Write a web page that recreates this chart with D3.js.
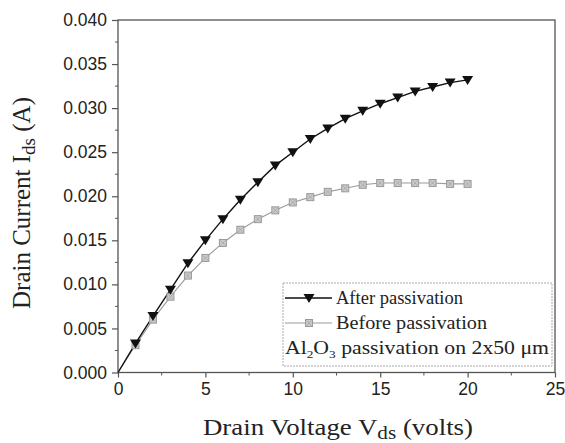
<!DOCTYPE html>
<html><head><meta charset="utf-8">
<script src="https://cdn.jsdelivr.net/npm/d3@7"></script>
<style>body{margin:0;background:#fff}svg{display:block}</style>
</head><body>
<svg id="c" width="565" height="443"></svg>
<script>
const voltage = [0,1,2,3,4,5,6,7,8,9,10,11,12,13,14,15,16,17,18,19,20];
const afterPassivation = [0,0.0033,0.0064,0.0094,0.0124,0.0150,0.0174,0.0196,0.0216,0.0235,0.0250,0.0265,0.0277,0.0288,0.0297,0.0305,0.0312,0.0319,0.0324,0.0329,0.0332];
const beforePassivation = [0,0.0031,0.0060,0.0086,0.0110,0.0130,0.0147,0.0162,0.0174,0.0184,0.0193,0.0199,0.0205,0.0209,0.0213,0.0215,0.0215,0.0215,0.0215,0.0214,0.0214];
const xTicks = [0,5,10,15,20,25];
const yTicks = [0,0.005,0.010,0.015,0.020,0.025,0.030,0.035,0.040];
const legendLabels = ["After passivation","Before passivation"];

const svg = d3.select("#c");
const L = 118, R = 555, T = 20, B = 372.5;
const x = d3.scaleLinear().domain([0,25]).range([L,R]);
const y = d3.scaleLinear().domain([0,0.040]).range([B,T]);
const axisColor = "#555";
const tickFont = "'Liberation Sans', Arial, sans-serif";
const serif = "'Liberation Serif', 'Times New Roman', serif";

// frame
svg.append("rect").attr("x",L).attr("y",T).attr("width",R-L).attr("height",B-T)
  .attr("fill","none").attr("stroke",axisColor).attr("stroke-width",1.3);

// minor ticks
const yMinor = d3.range(0.0025,0.040,0.005);
svg.append("g").selectAll("line").data(yMinor).join("line")
  .attr("x1",L-3).attr("x2",L).attr("y1",d=>y(d)).attr("y2",d=>y(d))
  .attr("stroke",axisColor).attr("stroke-width",1);
const xMinor = d3.range(2.5,25,5);
svg.append("g").selectAll("line").data(xMinor).join("line")
  .attr("y1",B).attr("y2",B+3).attr("x1",d=>x(d)).attr("x2",d=>x(d))
  .attr("stroke",axisColor).attr("stroke-width",1);

// axes
const yAxis = svg.append("g").attr("transform",`translate(${L},0)`)
  .call(d3.axisLeft(y).tickValues(yTicks).tickFormat(d3.format(".3f")).tickSize(6).tickPadding(5));
const xAxis = svg.append("g").attr("transform",`translate(0,${B})`)
  .call(d3.axisBottom(x).tickValues(xTicks).tickFormat(d3.format("d")).tickSize(5).tickPadding(5));
[xAxis,yAxis].forEach(g=>{
  g.select(".domain").remove();
  g.selectAll(".tick line").attr("stroke",axisColor).attr("stroke-width",1.2);
  g.selectAll(".tick text").attr("fill","#222").attr("font-family",tickFont).attr("font-size",17.5);
});

// lines
const lineGen = (arr)=>d3.line().x((d,i)=>x(voltage[i])).y(d=>y(d))(arr);
svg.append("path").attr("d",lineGen(beforePassivation)).attr("fill","none")
  .attr("stroke","#9a9a9a").attr("stroke-width",1.1);
svg.append("path").attr("d",lineGen(afterPassivation)).attr("fill","none")
  .attr("stroke","#111").attr("stroke-width",1.4);

// markers
const tri = "M-5.5,-4 L5.5,-4 L0,5 Z";
function square(g){
  g.append("rect").attr("x",-3.5).attr("y",-3.5).attr("width",7).attr("height",7)
    .attr("fill","#cacaca").attr("stroke","#999").attr("stroke-width",1);
  g.append("path").attr("d","M-2.5,-2.5L2.5,2.5M-2.5,2.5L2.5,-2.5").attr("stroke","#a5a5a5").attr("stroke-width",0.8);
}
svg.append("g").selectAll("g").data(beforePassivation.slice(1)).join("g")
  .attr("transform",(d,i)=>`translate(${x(voltage[i+1])},${y(d)})`)
  .each(function(){square(d3.select(this));});
svg.append("g").selectAll("path").data(afterPassivation.slice(1)).join("path")
  .attr("d",tri).attr("fill","#111")
  .attr("transform",(d,i)=>`translate(${x(voltage[i+1])},${y(d)})`);

// legend
const lg = svg.append("g");
lg.append("rect").attr("x",283).attr("y",283).attr("width",269).attr("height",83)
  .attr("fill","#fff").attr("stroke","#aaa").attr("stroke-width",1).attr("stroke-dasharray","2,1");
const rowsY = [298,323];
lg.append("line").attr("x1",285).attr("x2",332).attr("y1",rowsY[0]).attr("y2",rowsY[0]).attr("stroke","#111").attr("stroke-width",1.4);
lg.append("path").attr("d",tri).attr("fill","#111").attr("transform",`translate(309,${rowsY[0]})`);
lg.append("line").attr("x1",285).attr("x2",332).attr("y1",rowsY[1]).attr("y2",rowsY[1]).attr("stroke","#9a9a9a").attr("stroke-width",1.1);
square(lg.append("g").attr("transform",`translate(309,${rowsY[1]})`));
const legendWidths = [127,151];
legendLabels.forEach((t,i)=>{
  lg.append("text").attr("x",336).attr("y",rowsY[i]+6).attr("font-family",serif).attr("font-size",18)
    .attr("fill","#222").attr("textLength",legendWidths[i]).attr("lengthAdjust","spacingAndGlyphs").text(t);
});
const t3 = lg.append("text").attr("x",285).attr("y",354).attr("font-family",serif).attr("font-size",18)
  .attr("fill","#222").attr("textLength",264).attr("lengthAdjust","spacingAndGlyphs");
t3.append("tspan").text("Al");
t3.append("tspan").attr("font-size",11).attr("dy",4).text("2");
t3.append("tspan").attr("dy",-4).text("O");
t3.append("tspan").attr("font-size",11).attr("dy",4).text("3");
t3.append("tspan").attr("dy",-4).text(" passivation on 2x50 μm");

// axis titles
const xt = svg.append("text").attr("x",338).attr("y",435).attr("text-anchor","middle")
  .attr("font-family",serif).attr("font-size",24).attr("fill","#222")
  .attr("textLength",270).attr("lengthAdjust","spacingAndGlyphs");
xt.append("tspan").text("Drain Voltage V");
xt.append("tspan").attr("font-size",19).attr("dy",4).text("ds");
xt.append("tspan").attr("dy",-4).text(" (volts)");

const yt = svg.append("text").attr("transform","translate(30,203) rotate(-90)").attr("text-anchor","middle")
  .attr("font-family",serif).attr("font-size",25).attr("fill","#222");
yt.append("tspan").text("Drain Current I");
yt.append("tspan").attr("font-size",19).attr("dy",5).text("ds");
yt.append("tspan").attr("dy",-5).text(" (A)");
</script>
</body></html>
